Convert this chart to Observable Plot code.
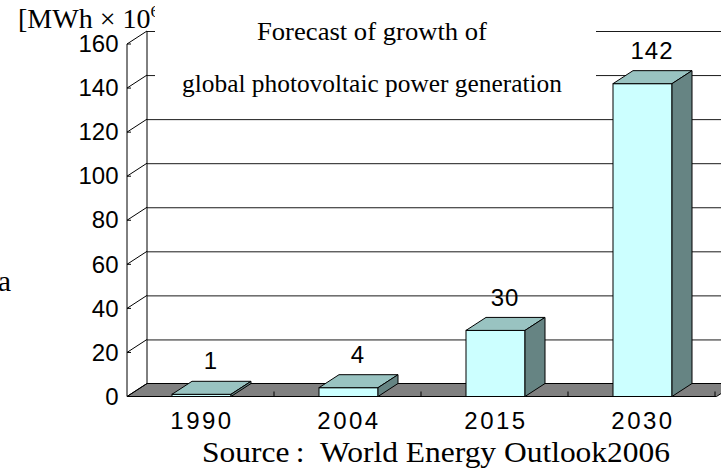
<!DOCTYPE html>
<html><head><meta charset="utf-8">
<script src="https://cdn.jsdelivr.net/npm/d3@7"></script>
<script src="https://cdn.jsdelivr.net/npm/@observablehq/plot@0.6"></script>
<style>
body{margin:0;background:#fff}
#chart svg [aria-label="x-axis tick label"] text{letter-spacing:2.5px}
#chart svg [aria-label="text"] text{letter-spacing:1px}
</style></head><body><div id="chart"></div>
<script>
// ---- data ----
const years = ["1990", "2004", "2015", "2030"];
const values = [1, 4, 30, 142];
const yTicks = [0, 20, 40, 60, 80, 100, 120, 140, 160];
const titleLines = ["Forecast of growth of", "global photovoltaic power generation"];
const unitLabel = "[MWh × 10";
const unitExp = "6";
const unitClose = "]";
const sourceText = "Source\u2009:\u00a0\u00a0World Energy Outlook2006";
const strayText = "a";

const data = years.map((year, i) => ({year, value: values[i]}));

// ---- style ----
const DX = 20, DY = 13;
const FRONT = "#ccffff", TOP = "#99c3c1", SIDE = "#668483", FLOOR = "#808080";
const SANS = "'Liberation Sans', Arial, sans-serif";
const SERIF = "'Liberation Serif', 'Times New Roman', serif";

const poly = pts => "M" + pts.map(p => p.join(",")).join("L") + "Z";
const bwOf = x => typeof x.bandwidth === "function" ? x.bandwidth() : x.bandwidth;

function wallMark(index, scales, vals, dims) {
  const x = scales.x, y = scales.y;
  const L = dims.marginLeft, R = dims.width - dims.marginRight;
  const y0 = y(0), yT = y(d3.max(yTicks));
  const g = d3.create("svg:g").attr("stroke", "#000").attr("stroke-width", 1).attr("fill", "none");
  g.append("path").attr("fill", FLOOR).attr("d", poly([[L, y0], [R, y0], [R + DX, y0 - DY], [L + DX, y0 - DY]]));
  g.append("line").attr("x1", L).attr("x2", L).attr("y1", yT).attr("y2", y0);
  g.append("line").attr("x1", L + DX).attr("x2", L + DX).attr("y1", yT - DY).attr("y2", y0 - DY);
  for (const t of yTicks) {
    g.append("line").attr("x1", L).attr("y1", y(t)).attr("x2", L + DX).attr("y2", y(t) - DY);
    g.append("line").attr("x1", L).attr("y1", y(t)).attr("x2", L + 4).attr("y2", y(t));
  }
  const step = x(years[1]) - x(years[0]);
  for (let k = 1; k <= years.length; k++) {
    const xb = L + step * k;
    g.append("line").attr("x1", xb).attr("x2", xb).attr("y1", y0 - 5).attr("y2", y0);
  }
  return g.node();
}

function boxMark(index, scales, vals, dims) {
  const x = scales.x, y = scales.y, bw = bwOf(x);
  const g = d3.create("svg:g").attr("stroke", "#000").attr("stroke-width", 1).attr("stroke-linejoin", "round");
  for (const d of data) {
    const x0 = x(d.year), x1 = x0 + bw, yv = y(d.value), y0 = y(0);
    g.append("path").attr("fill", TOP).attr("d", poly([[x0, yv], [x0 + DX, yv - DY], [x1 + DX, yv - DY], [x1, yv]]));
    g.append("path").attr("fill", SIDE).attr("d", poly([[x1, yv], [x1 + DX, yv - DY], [x1 + DX, y0 - DY], [x1, y0]]));
  }
  return g.node();
}

const chart = Plot.plot({
  width: 721,
  height: 468,
  marginLeft: 127,
  marginRight: 4.5,
  marginTop: 44,
  marginBottom: 71.5,
  style: {fontFamily: SANS, background: "white", color: "black"},
  x: {domain: years, paddingInner: 0.6, paddingOuter: 0.3, label: null},
  y: {domain: [0, 160], label: null},
  marks: [
    Plot.ruleY(yTicks, {dx: DX, dy: -DY, stroke: "#1a1a1a", strokeWidth: 1}),
    wallMark,
    Plot.barY(data, {x: "year", y: "value", fill: FRONT, stroke: "#000", strokeWidth: 1}),
    boxMark,
    Plot.text(data, {x: "year", y: "value", text: d => String(d.value), dx: 9, dy: -33, fontSize: 24, fill: "#000"}),
    Plot.axisY({ticks: yTicks, tickSize: 0, tickPadding: 9, fontSize: 24, label: null}),
    Plot.axisX({tickSize: 0, tickPadding: 14.5, fontSize: 24, label: null})
  ]
});
document.getElementById("chart").appendChild(chart);

// ---- annotations ----
const svg = d3.select(chart);
const unit = svg.append("text").attr("x", 18).attr("y", 27.5).attr("text-anchor", "start")
  .attr("font-family", SERIF).attr("font-size", 28).attr("fill", "#000");
unit.append("tspan").text(unitLabel);
unit.append("tspan").attr("font-size", 17.5).attr("dy", -11).text(unitExp);
unit.append("tspan").attr("dy", 11).text(unitClose);

svg.append("rect").attr("x", 155).attr("y", 0).attr("width", 441).attr("height", 105).attr("fill", "white");
svg.append("text").attr("x", 372).attr("y", 39.5).attr("text-anchor", "middle").attr("font-family", SERIF)
  .attr("font-size", 25.5).attr("textLength", 230).attr("lengthAdjust", "spacingAndGlyphs").attr("fill", "#000").text(titleLines[0]);
svg.append("text").attr("x", 372).attr("y", 92).attr("text-anchor", "middle").attr("font-family", SERIF)
  .attr("font-size", 25.5).attr("textLength", 380).attr("lengthAdjust", "spacingAndGlyphs").attr("fill", "#000").text(titleLines[1]);
svg.append("text").attr("x", 202).attr("y", 461.5).attr("text-anchor", "start").attr("font-family", SERIF)
  .attr("font-size", 30).attr("textLength", 468).attr("lengthAdjust", "spacingAndGlyphs").attr("fill", "#000").text(sourceText);
svg.append("text").attr("x", 11).attr("y", 291).attr("text-anchor", "end").attr("font-family", SERIF)
  .attr("font-size", 30).attr("fill", "#000").text(strayText);
</script></body></html>
